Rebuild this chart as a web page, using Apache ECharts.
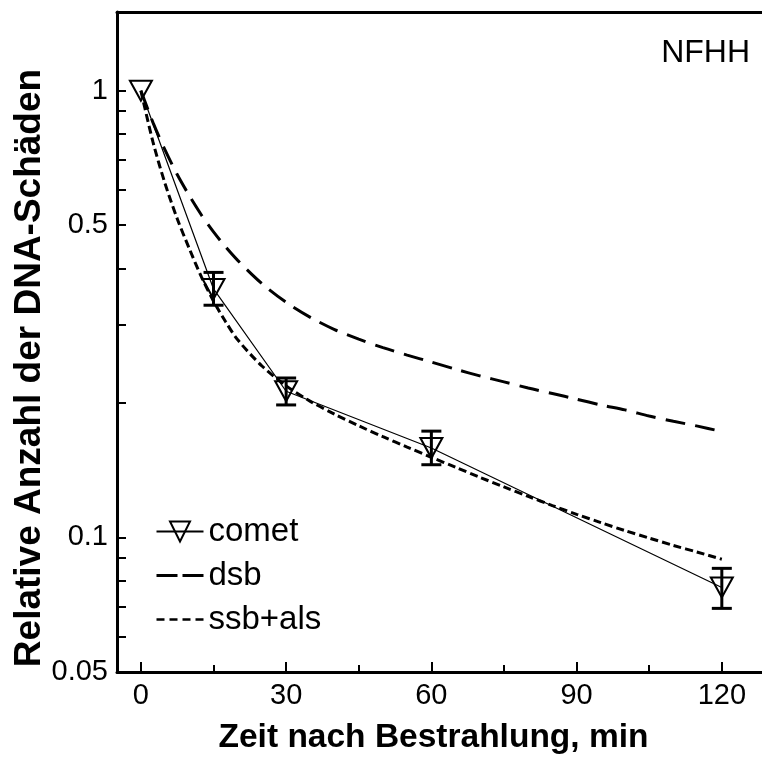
<!DOCTYPE html>
<html><head><meta charset="utf-8">
<script src="https://cdn.jsdelivr.net/npm/echarts@6/dist/echarts.min.js"></script>
<style>html,body{margin:0;padding:0;background:#fff}#c{width:762px;height:760px}</style>
</head><body><div id="c"></div>
<script>
// ---- data ----
const seriesNames = ['comet', 'dsb', 'ssb+als'];
const cometTimes = [0, 15, 30, 60, 120];
const cometValues = [1, 0.360, 0.2125, 0.1586, 0.0773];
const cometErrLow = [null, 0.331, 0.198, 0.1455, 0.0694];
const cometErrHigh = [null, 0.392, 0.2275, 0.173, 0.0853];
const curveTimes = [0, 2.5, 5, 7.5, 10, 12.5, 15, 17.5, 20, 25, 30, 35, 40, 45, 50, 55, 60, 65, 70, 75, 80, 85, 90, 95, 100, 105, 110, 115, 120];
const dsbValues = [1, 0.848, 0.736, 0.649, 0.582, 0.527, 0.483, 0.447, 0.417, 0.370, 0.336, 0.311, 0.292, 0.278, 0.266, 0.256, 0.247, 0.238, 0.230, 0.223, 0.216, 0.210, 0.204, 0.198, 0.193, 0.187, 0.182, 0.1775, 0.1727];
const ssbValues = [1, 0.767, 0.619, 0.517, 0.443, 0.383, 0.338, 0.304, 0.277, 0.242, 0.2185, 0.2017, 0.1888, 0.1778, 0.1681, 0.1593, 0.1512, 0.1436, 0.1364, 0.1298, 0.1236, 0.1179, 0.1127, 0.108, 0.1036, 0.0997, 0.096, 0.0927, 0.0894];
const xMajorTicks = [0, 30, 60, 90, 120];
const xMinorTicks = [15, 45, 75, 105];
const yMajorTicks = [0.05, 0.1, 0.5, 1];
const yMinorTicks = [0.06, 0.07, 0.08, 0.09, 0.2, 0.3, 0.4, 0.6, 0.7, 0.8, 0.9];
const xTitle = 'Zeit nach Bestrahlung, min';
const yTitle = 'Relative Anzahl der DNA-Schäden';
const panelLabel = 'NFHH';

// ---- chart ----
const FONT = '"Liberation Sans", Arial, Helvetica, sans-serif';
const X_MIN = -4.94, X_MAX = 128.3, Y_MIN = 0.05, Y_MAX = 1.5;
const chart = echarts.init(document.getElementById('c'), null, {renderer: 'canvas'});

const zip = (xs, ys) => xs.map((x, i) => [x, ys[i]]);
const triangleDown = 'path://M0,0 L22,0 L11,20 Z';

const option = {
  backgroundColor: '#fff',
  animation: false,
  grid: {left: 117, top: 12, right: 0, bottom: 88, containLabel: false},
  xAxis: [
    {
      type: 'value', position: 'bottom', min: X_MIN, max: X_MAX,
      axisLine: {show: true, onZero: false, lineStyle: {color: '#000', width: 3}},
      axisTick: {show: true, inside: true, length: 10, customValues: xMajorTicks, lineStyle: {color: '#000', width: 2}},
      axisLabel: {show: true, customValues: xMajorTicks, margin: 9, color: '#000', fontSize: 29, fontFamily: FONT,
        formatter: v => String(v)},
      splitLine: {show: false},
      name: xTitle, nameLocation: 'middle', nameGap: 49,
      nameTextStyle: {fontSize: 33.5, fontWeight: 'bold', color: '#000', fontFamily: FONT, padding: [0, 12, 0, 0]}
    },
    {
      type: 'value', position: 'bottom', min: X_MIN, max: X_MAX,
      axisLine: {show: false, onZero: false},
      axisTick: {show: true, inside: true, length: 7, customValues: xMinorTicks, lineStyle: {color: '#000', width: 2}},
      axisLabel: {show: false},
      splitLine: {show: false}
    },
    {
      type: 'value', position: 'top', min: X_MIN, max: X_MAX,
      axisLine: {show: true, onZero: false, lineStyle: {color: '#000', width: 3}},
      axisTick: {show: false}, axisLabel: {show: false}, splitLine: {show: false}
    }
  ],
  yAxis: [
    {
      type: 'log', logBase: 10, position: 'left', min: Y_MIN, max: Y_MAX,
      axisLine: {show: true, onZero: false, lineStyle: {color: '#000', width: 3}},
      axisTick: {show: true, inside: true, length: 9, customValues: yMajorTicks, lineStyle: {color: '#000', width: 2}},
      axisLabel: {show: true, customValues: yMajorTicks, margin: 9, color: '#000', fontSize: 29, fontFamily: FONT,
        formatter: v => String(v)},
      splitLine: {show: false}, minorTick: {show: false}
    },
    {
      type: 'log', logBase: 10, position: 'left', min: Y_MIN, max: Y_MAX,
      axisLine: {show: false, onZero: false},
      axisTick: {show: true, inside: true, length: 9, customValues: yMinorTicks, lineStyle: {color: '#000', width: 2}},
      axisLabel: {show: false}, splitLine: {show: false}
    }
  ],
  legend: {
    orient: 'vertical', left: 155, top: 515, padding: 0,
    itemWidth: 47, itemHeight: 25, itemGap: 11, selectedMode: false,
    textStyle: {fontSize: 33, color: '#000', fontFamily: FONT, lineHeight: 31},
    data: [
      {name: seriesNames[0]},
      {name: seriesNames[1], lineStyle: {type: [21, 5], width: 3}},
      {name: seriesNames[2], lineStyle: {type: [8, 5], width: 2.5}}
    ]
  },
  graphic: [
    {type: 'text', x: 30, y: 368, rotation: Math.PI / 2, z: 100,
      style: {text: yTitle, fontSize: 37, fontWeight: 'bold', fill: '#000', fontFamily: FONT, align: 'center', verticalAlign: 'middle'}},
    {type: 'text', x: 750, y: 53, z: 100,
      style: {text: panelLabel, fontSize: 32, fill: '#000', fontFamily: FONT, align: 'right', verticalAlign: 'middle'}}
  ],
  series: [
    {
      name: seriesNames[1], type: 'line', xAxisIndex: 0, yAxisIndex: 0,
      data: zip(curveTimes, dsbValues), smooth: 0.3, symbol: 'none', showSymbol: false,
      lineStyle: {color: '#000', width: 3, type: [20, 10]},
      itemStyle: {color: 'rgba(0,0,0,0)', borderWidth: 0},
      emphasis: {disabled: true}, z: 2
    },
    {
      name: seriesNames[2], type: 'line', xAxisIndex: 0, yAxisIndex: 0,
      data: zip(curveTimes, ssbValues), smooth: 0.3, symbol: 'none', showSymbol: false,
      lineStyle: {color: '#000', width: 3, type: [8, 4]},
      itemStyle: {color: 'rgba(0,0,0,0)', borderWidth: 0},
      emphasis: {disabled: true}, z: 2
    },
    {
      name: seriesNames[0], type: 'line', xAxisIndex: 0, yAxisIndex: 0,
      data: zip(cometTimes, cometValues), symbol: triangleDown, symbolSize: [22, 20], showSymbol: true,
      lineStyle: {color: '#000', width: 1.2},
      itemStyle: {color: 'rgba(0,0,0,0)', borderColor: '#000', borderWidth: 2},
      emphasis: {disabled: true}, z: 4
    },
    {
      name: 'comet error', type: 'custom', xAxisIndex: 0, yAxisIndex: 0, z: 3,
      data: cometTimes.map((t, i) => [t, cometErrLow[i], cometErrHigh[i]]).filter(d => d[1] != null),
      encode: {x: 0, y: [1, 2]},
      renderItem: function (params, api) {
        const x = api.value(0);
        const lo = api.coord([x, api.value(1)]);
        const hi = api.coord([x, api.value(2)]);
        const w = 10;
        const st = {stroke: '#000', lineWidth: 3};
        return {type: 'group', children: [
          {type: 'line', shape: {x1: lo[0], y1: lo[1], x2: hi[0], y2: hi[1]}, style: st},
          {type: 'line', shape: {x1: lo[0] - w, y1: lo[1], x2: lo[0] + w, y2: lo[1]}, style: st},
          {type: 'line', shape: {x1: hi[0] - w, y1: hi[1], x2: hi[0] + w, y2: hi[1]}, style: st}
        ]};
      }
    }
  ]
};
chart.setOption(option);
</script>
</body></html>
